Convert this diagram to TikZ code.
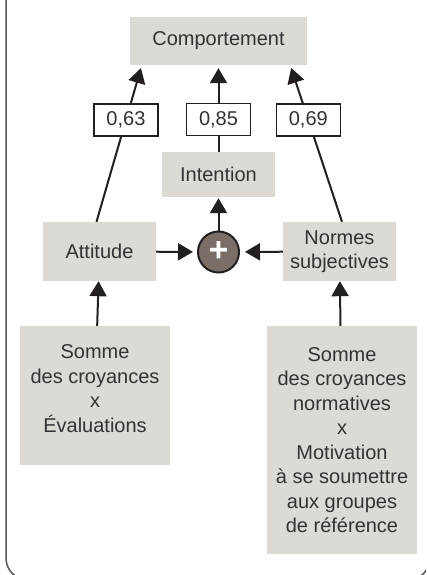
\documentclass[tikz,border=0pt]{standalone}
\usepackage{fontspec}
\setmainfont{Liberation Sans}
\usepackage{tikz}
\usetikzlibrary{arrows.meta}
\definecolor{ajzenGrey}{HTML}{DDDAD5}
\definecolor{ajzenInk}{HTML}{231F20}
\definecolor{ajzenText}{HTML}{333333}
\definecolor{ajzenPlus}{HTML}{7A6E66}
\definecolor{ajzenFrame}{HTML}{555555}

\begin{document}
\begin{tikzpicture}[
  x=1pt,y=-1pt,
  box/.style={rectangle,fill=ajzenGrey,align=center,inner sep=0pt,text=ajzenText,font=\fontsize{20}{24.5}\selectfont},
  coef/.style={rectangle,draw=ajzenInk,fill=white,line width=1.4pt,minimum width=64pt,minimum height=32pt,inner sep=0pt,text=ajzenText,font=\fontsize{20}{24.5}\selectfont},
  plus/.style={circle,draw=ajzenInk,fill=ajzenPlus,line width=2pt,minimum size=41pt,inner sep=0pt,text=white,font=\bfseries\fontsize{34}{34}\selectfont},
  arrow/.style={-{Triangle[length=15pt,width=17pt]},line width=2pt,color=ajzenInk}
]
\useasboundingbox (0,0) rectangle (426,575);
\begin{scope}
  \clip (0,0) rectangle (426,575);
  \draw[ajzenFrame,line width=1.5pt,rounded corners=22pt] (6,-40) rectangle (430,580);
\end{scope}
\node[box,minimum width=177pt,minimum height=48pt] (behaviour) at (218.5,41) {Comportement};
\node[box,minimum width=113pt,minimum height=45pt] (intention) at (218.5,174.5) {Intention};
\node[box,minimum width=113pt,minimum height=59pt] (attitude) at (99.5,251.5) {Attitude};
\node[box,minimum width=113pt,minimum height=59pt] (norms) at (339.5,251.5) {Normes\\subjectives};
\node[plus] (sum) at (218.5,252) {+};
\node[box,minimum width=150pt,minimum height=139pt,text depth=14pt] (beliefs) at (95,395.5) {Somme\\des croyances\\x\\Évaluations};
\node[box,minimum width=150pt,minimum height=228pt] (normbeliefs) at (342,440) {Somme\\des croyances\\normatives\\x\\Motivation\\à se soumettre\\aux groupes\\de référence};
\coordinate (inLeft) at ([xshift=12pt]behaviour.south west);
\coordinate (inRight) at ([xshift=-17pt]behaviour.south east);
\draw[arrow,shorten >=3pt] ([xshift=-3pt]attitude.north) -- node[coef,pos=0.65] (wAttitude) {0,63} (inLeft);
\draw[arrow,shorten >=3pt] (intention) -- node[coef,pos=0.37] (wIntention) {0,85} (behaviour);
\draw[arrow,shorten >=3pt] ([xshift=2.5pt]norms.north) -- node[coef,pos=0.65] (wNorms) {0,69} (inRight);
\draw[arrow,shorten >=1pt] (sum) -- (intention);
\draw[arrow,shorten >=4pt] (attitude) -- (sum);
\draw[arrow,shorten >=5pt] (norms) -- (sum);
\draw[arrow] (beliefs) -- (attitude);
\draw[arrow] (normbeliefs) -- (norms);
\end{tikzpicture}
\end{document}
